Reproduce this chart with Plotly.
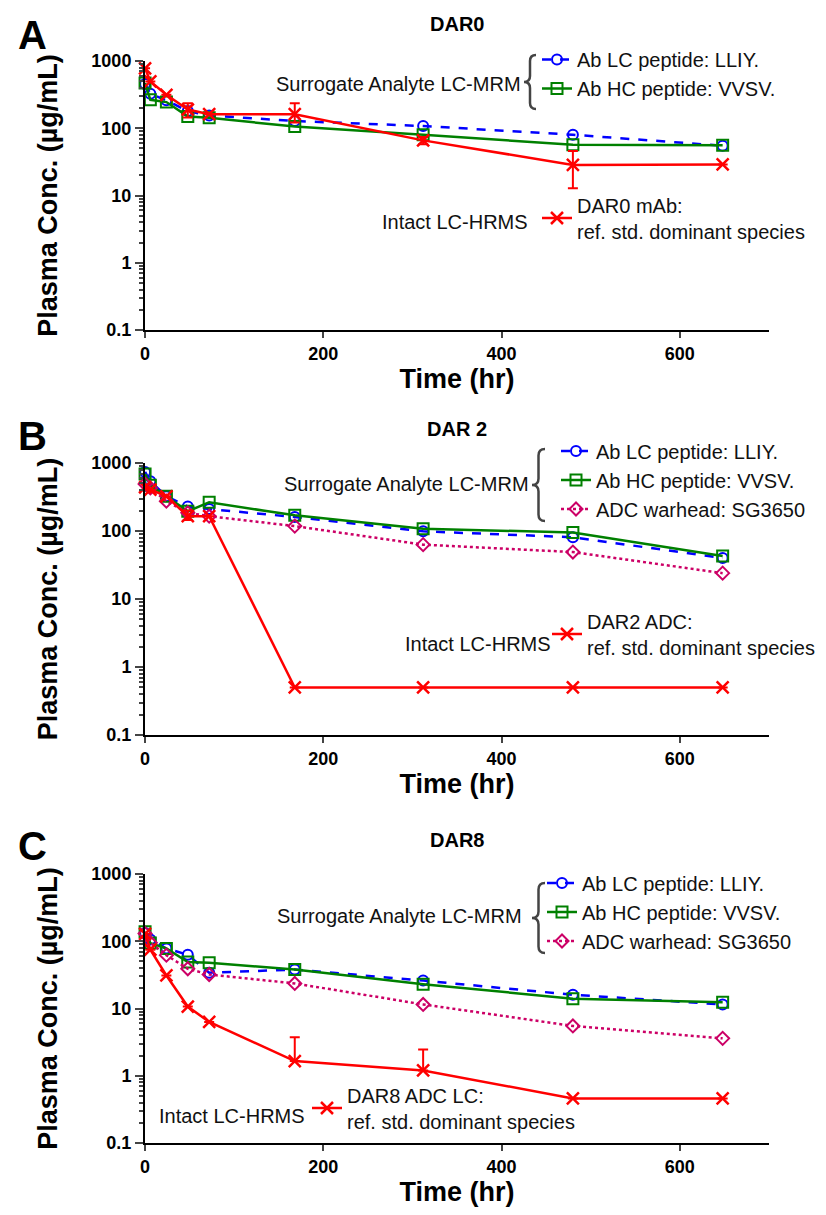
import plotly.graph_objects as go

W, H = 826, 1215

# ---------------- data ----------------
time_hr = [0.083, 6, 24, 48, 72, 168, 312, 480, 648]

# Panel A: DAR0
A_LC = [455, 326, 260, 180, 155, 128, 108, 80, 55]
A_HC = [470, 265, 245, 150, 143, 106, 80, 57, 56]
A_INT = [780, 497, 314, 190, 162, 162, 66, 28.5, 29]
A_INT_ERR_PLUS = [0, 0, 0, 45, 0, 73, 8, 17.5, 0]
A_INT_ERR_MINUS = [0, 0, 0, 45, 0, 40, 8, 15.7, 0]

# Panel B: DAR 2
B_LC = [740, 537, 324, 230, 210, 161, 99, 81, 40]
B_HC = [690, 470, 324, 195, 264, 170, 108, 95, 43]
B_WH = [490, 430, 275, 185, 165, 118, 63, 49, 24]
B_INT = [440, 405, 324, 165, 165, 0.5, 0.5, 0.5, 0.5]
B_INT_ERR_PLUS = [0, 0, 0, 35, 0, 0, 0, 0, 0]
B_INT_ERR_MINUS = [0, 0, 0, 20, 0, 0, 0, 0, 0]

# Panel C: DAR8
C_LC = [133, 106, 78, 63, 34, 38, 26, 16, 11.5]
C_HC = [138, 94, 78, 49, 48, 38, 23, 14, 12.4]
C_WH = [130, 95, 62, 39, 32, 23.6, 11.5, 5.5, 3.6]
C_INT = [129, 75, 31, 10.7, 6.3, 1.65, 1.2, 0.46, 0.46]
C_INT_ERR_PLUS = [0, 0, 0, 0, 0, 2.1, 1.25, 0, 0]
C_INT_ERR_MINUS = [0, 0, 0, 0, 0, 0, 0, 0, 0]

x_ticks = [0, 200, 400, 600]
y_ticks = [0.1, 1, 10, 100, 1000]
y_ticktext = ["0.1", "1", "10", "100", "1000"]

panel_titles = ["DAR0", "DAR 2", "DAR8"]
panel_letters = ["A", "B", "C"]
name_LC = "Ab LC peptide: LLIY."
name_HC = "Ab HC peptide: VVSV."
name_WH = "ADC warhead: SG3650"
int_names = ["DAR0 mAb:<br>ref. std. dominant species",
             "DAR2 ADC:<br>ref. std. dominant species",
             "DAR8 ADC LC:<br>ref. std. dominant species"]

# ---------------- styling ----------------
FONT = "Arial, Liberation Sans, sans-serif"
BLUE = "#0000FF"
GREEN = "#008000"
PINK = "#CC0066"
RED = "#FF0000"
LEG_FS = 20


def X(px):
    return px / W


def Y(py):
    return 1 - py / H


# plot-area geometry (pixels)
x_left, x_right = 137, 761
panel_y = [(53, 322), (455, 727), (866, 1135)]

fig = go.Figure()

panels = [
    dict(LC=A_LC, HC=A_HC, WH=None, INT=A_INT, ep=A_INT_ERR_PLUS, em=A_INT_ERR_MINUS),
    dict(LC=B_LC, HC=B_HC, WH=B_WH, INT=B_INT, ep=B_INT_ERR_PLUS, em=B_INT_ERR_MINUS),
    dict(LC=C_LC, HC=C_HC, WH=C_WH, INT=C_INT, ep=C_INT_ERR_PLUS, em=C_INT_ERR_MINUS),
]

leg_names = [("legend", "legend2"), ("legend3", "legend4"), ("legend5", "legend6")]

for i, p in enumerate(panels):
    xa = "x" if i == 0 else f"x{i+1}"
    ya = "y" if i == 0 else f"y{i+1}"
    lg_s, lg_i = leg_names[i]
    fig.add_trace(go.Scatter(
        x=time_hr, y=p["LC"], name=name_LC, xaxis=xa, yaxis=ya, legend=lg_s,
        mode="lines+markers", cliponaxis=False,
        line=dict(color=BLUE, width=2.5, dash="dash"),
        marker=dict(symbol="circle-open", size=10, color=BLUE, line=dict(width=2, color=BLUE))))
    fig.add_trace(go.Scatter(
        x=time_hr, y=p["HC"], name=name_HC, xaxis=xa, yaxis=ya, legend=lg_s,
        mode="lines+markers", cliponaxis=False,
        line=dict(color=GREEN, width=2.5),
        marker=dict(symbol="square-open", size=11, color=GREEN, line=dict(width=2, color=GREEN))))
    if p["WH"] is not None:
        fig.add_trace(go.Scatter(
            x=time_hr, y=p["WH"], name=name_WH, xaxis=xa, yaxis=ya, legend=lg_s,
            mode="lines+markers", cliponaxis=False,
            line=dict(color=PINK, width=2.5, dash="dot"),
            marker=dict(symbol="diamond-open", size=10, color=PINK, line=dict(width=2, color=PINK))))
    fig.add_trace(go.Scatter(
        x=time_hr, y=p["INT"], name=int_names[i], xaxis=xa, yaxis=ya, legend=lg_i,
        mode="lines+markers", cliponaxis=False,
        line=dict(color=RED, width=2.5),
        marker=dict(symbol="x-thin-open", size=12, color=RED, line=dict(width=2.5, color=RED)),
        error_y=dict(type="data", symmetric=False, array=p["ep"], arrayminus=p["em"],
                     color=RED, thickness=2, width=5)))

# minor tick positions for the log axis
minor_vals = [m * 10 ** e for e in range(-1, 3) for m in range(2, 10)]

layout = dict(
    width=W, height=H,
    margin=dict(l=0, r=0, t=0, b=0),
    paper_bgcolor="white", plot_bgcolor="white",
    font=dict(family=FONT, color="black"),
    showlegend=True,
)

for i in range(3):
    xk = "xaxis" if i == 0 else f"xaxis{i+1}"
    yk = "yaxis" if i == 0 else f"yaxis{i+1}"
    ya = "y" if i == 0 else f"y{i+1}"
    xa = "x" if i == 0 else f"x{i+1}"
    yt, yb = panel_y[i]
    layout[xk] = dict(
        domain=[X(x_left), X(x_right)], anchor=ya, range=[0, 700],
        tickmode="array", tickvals=x_ticks, ticks="outside", ticklen=6, tickwidth=2,
        showline=True, linewidth=2, linecolor="black", showgrid=False, zeroline=False,
        tickfont=dict(size=18, family=FONT, weight="bold"),
        title=dict(text="Time (hr)", font=dict(size=27, family=FONT, weight="bold"), standoff=4),
        automargin=False)
    layout[yk] = dict(
        domain=[Y(yb), Y(yt)], anchor=xa, type="log", range=[-1, 3],
        tickmode="array", tickvals=y_ticks, ticktext=y_ticktext,
        ticks="outside", ticklen=8, tickwidth=2,
        minor=dict(tickmode="array", tickvals=minor_vals, ticks="outside", ticklen=4,
                   tickwidth=1.5, showgrid=False),
        showline=True, linewidth=2, linecolor="black", showgrid=False, zeroline=False,
        tickfont=dict(size=18, family=FONT, weight="bold"),
        title=dict(text="Plasma Conc. (µg/mL)", font=dict(size=27, family=FONT, weight="bold"),
                   standoff=26),
        automargin=False)

# legends
leg_pos = [
    ("legend", 529, 66), ("legend2", 529, 210),
    ("legend3", 548, 472), ("legend4", 539, 626),
    ("legend5", 534, 904), ("legend6", 299, 1100),
]
for key, lx, ly in leg_pos:
    layout[key] = dict(x=X(lx), y=Y(ly), xanchor="left", yanchor="middle",
                       bgcolor="rgba(0,0,0,0)", borderwidth=0, valign="middle",
                       font=dict(size=LEG_FS, family=FONT, color="#111"),
                       tracegroupgap=0)

fig.update_layout(**layout)

# annotations: titles, letters, group labels
ann = []
title_y = [16, 421, 832]
letter_y = [27, 428, 838]
for i in range(3):
    ann.append(dict(text=panel_titles[i], x=X(449), y=Y(title_y[i]), xref="paper", yref="paper",
                    showarrow=False, xanchor="center", yanchor="middle",
                    font=dict(size=20, family=FONT, weight="bold")))
    ann.append(dict(text=panel_letters[i], x=X(8), y=Y(letter_y[i]), xref="paper", yref="paper",
                    showarrow=False, xanchor="left", yanchor="middle",
                    font=dict(size=40, family=FONT, weight="bold")))

surr_pos = [(515, 76), (523, 476), (516, 908)]
intact_pos = [(522, 214), (545, 636), (299, 1108)]
for (sx, sy) in surr_pos:
    ann.append(dict(text="Surrogate Analyte LC-MRM", x=X(sx), y=Y(sy), xref="paper", yref="paper",
                    showarrow=False, xanchor="right", yanchor="middle",
                    font=dict(size=LEG_FS, family=FONT, color="#111")))
for (ix, iy) in intact_pos:
    ann.append(dict(text="Intact LC-HRMS", x=X(ix), y=Y(iy), xref="paper", yref="paper",
                    showarrow=False, xanchor="right", yanchor="middle",
                    font=dict(size=LEG_FS, family=FONT, color="#111")))
fig.update_layout(annotations=ann)


def brace(xl, xr, yt, yb):
    xm = (xl + xr) / 2
    ym = (yt + yb) / 2
    d = (xr - xl) / 2
    return (f"M {X(xr)},{Y(yt)} Q {X(xm)},{Y(yt)} {X(xm)},{Y(yt + d)} "
            f"L {X(xm)},{Y(ym - d)} Q {X(xm)},{Y(ym)} {X(xl)},{Y(ym)} "
            f"Q {X(xm)},{Y(ym)} {X(xm)},{Y(ym + d)} "
            f"L {X(xm)},{Y(yb - d)} Q {X(xm)},{Y(yb)} {X(xr)},{Y(yb)}")


braces = [(516, 528, 47, 101), (524, 537, 441, 513), (524, 537, 875, 945)]
shapes = []
for b in braces:
    shapes.append(dict(type="path", path=brace(*b), xref="paper", yref="paper",
                       line=dict(color="#444444", width=2.5)))
fig.update_layout(shapes=shapes)

fig.write_html("out.html")
